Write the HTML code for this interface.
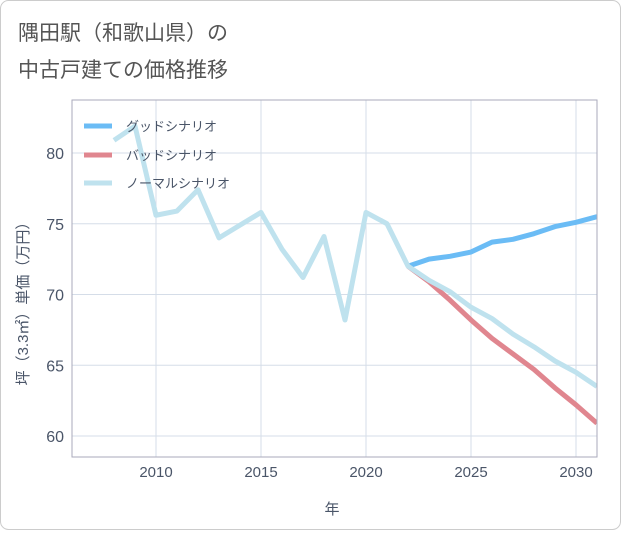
<!DOCTYPE html>
<html><head><meta charset="utf-8"><style>
body{margin:0;background:#fff}
.f{font-family:"Liberation Sans","Noto Sans CJK JP",sans-serif}
</style></head><body>
<svg width="621" height="530" class="f">
<rect x="0.5" y="0.5" width="620" height="529" rx="8" fill="#fff" stroke="#ccc"/>
<text x="18" y="40" font-size="21" fill="#555">隅田駅（和歌山県）の</text>
<text x="18" y="77" font-size="21" fill="#555">中古戸建ての価格推移</text>
<g id="grid"></g>
<g id="lines"></g>
<rect x="72" y="100" width="525" height="357" fill="none" stroke="#aab"/>
<text x="332" y="514" font-size="15" fill="#4a5568" text-anchor="middle">年</text>
<text transform="translate(28,300) rotate(-90)" font-size="15" fill="#4a5568" text-anchor="middle">坪（3.3㎡）単価（万円）</text>
<g>
<line x1="84" y1="126" x2="112" y2="126" stroke="#6bbcf5" stroke-width="5"/><text x="126" y="131" font-size="13" fill="#4a5568">グッドシナリオ</text>
<line x1="84" y1="155" x2="112" y2="155" stroke="#e0868f" stroke-width="5"/><text x="126" y="160" font-size="13" fill="#4a5568">バッドシナリオ</text>
<line x1="84" y1="183" x2="112" y2="183" stroke="#bfe2ee" stroke-width="5"/><text x="126" y="188" font-size="13" fill="#4a5568">ノーマルシナリオ</text>
</g>
</svg>
<script>
const normalYears=[2008,2009,2010,2011,2012,2013,2014,2015,2016,2017,2018,2019,2020,2021,2022,2023,2024,2025,2026,2027,2028,2029,2030,2031];
const normalVals=[80.9,81.9,75.6,75.9,77.4,74.0,74.9,75.8,73.2,71.2,74.1,68.2,75.8,75.0,72.0,71.0,70.2,69.1,68.3,67.2,66.3,65.3,64.5,63.5];
const futYears=[2022,2023,2024,2025,2026,2027,2028,2029,2030,2031];
const goodVals=[72.0,72.5,72.7,73.0,73.7,73.9,74.3,74.8,75.1,75.5];
const badVals=[72.0,70.9,69.6,68.2,66.9,65.8,64.7,63.4,62.2,60.9];
const xTicks=[2010,2015,2020,2025,2030];
const yTicks=[60,65,70,75,80];
const NS='http://www.w3.org/2000/svg';
const X=v=>72+(v-2006)*21;
const Y=v=>436-(v-60)*14.15;
const grid=document.getElementById('grid'),lines=document.getElementById('lines');
function mk(tag,attrs,parent){const e=document.createElementNS(NS,tag);for(const k in attrs)e.setAttribute(k,attrs[k]);parent.appendChild(e);return e;}
xTicks.forEach(t=>{
 const l=mk('line',{x1:X(t),x2:X(t),y1:100,y2:457,stroke:'#d5dde8'},grid);
 
 
 const tx=mk('text',{x:X(t),y:477,'font-size':15,fill:'#4a5568','text-anchor':'middle'},grid);tx.textContent=t;
 
 
});
yTicks.forEach(t=>{
 const l=mk('line',{x1:72,x2:597,y1:Y(t),y2:Y(t),stroke:'#d5dde8'},grid);
 
 
 const tx=mk('text',{x:64,y:Y(t)+6,'font-size':16,fill:'#4a5568','text-anchor':'end'},grid);tx.textContent=t;
 
 
});
function series(xs,vs,color,name){
 const p=mk('polyline',{points:xs.map((x,i)=>X(x)+','+Y(vs[i])).join(' '),fill:'none',stroke:color,'stroke-width':5,'stroke-linejoin':'round'},lines);
 
 
}
const cp=mk('clipPath',{id:'c'},document.querySelector('svg'));mk('rect',{x:72,y:100,width:525,height:357},cp);
lines.setAttribute('clip-path','url(#c)');
series(futYears,goodVals,'#6bbcf5','good-line');
series(futYears,badVals,'#e0868f','bad-line');
series(normalYears,normalVals,'#bfe2ee','normal-line');
</script>
</body></html>
